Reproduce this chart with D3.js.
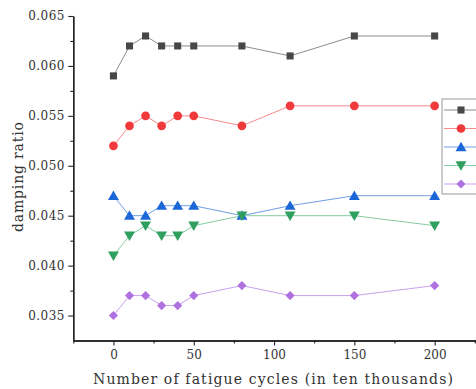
<!DOCTYPE html>
<html><head><meta charset="utf-8">
<script src="https://cdn.jsdelivr.net/npm/d3@7"></script>
<style>html,body{margin:0;padding:0;background:#fff;overflow:hidden}svg{display:block}</style>
</head><body>
<script>
const cycles = [0, 10, 20, 30, 40, 50, 80, 110, 150, 200];
const series1 = [0.059, 0.062, 0.063, 0.062, 0.062, 0.062, 0.062, 0.061, 0.063, 0.063];
const series2 = [0.052, 0.054, 0.055, 0.054, 0.055, 0.055, 0.054, 0.056, 0.056, 0.056];
const series3 = [0.047, 0.045, 0.045, 0.046, 0.046, 0.046, 0.045, 0.046, 0.047, 0.047];
const series4 = [0.041, 0.043, 0.044, 0.043, 0.043, 0.044, 0.045, 0.045, 0.045, 0.044];
const series5 = [0.035, 0.037, 0.037, 0.036, 0.036, 0.037, 0.038, 0.037, 0.037, 0.038];
const xTicks = [0, 50, 100, 150, 200];
const yTicks = [0.035, 0.040, 0.045, 0.050, 0.055, 0.060, 0.065];
const xLabel = "Number of fatigue cycles (in ten thousands)";
const yLabel = "damping ratio";

const W = 476, H = 389;
const svg = d3.select("body").append("svg").attr("width", W).attr("height", H);
const x = d3.scaleLinear().domain([-25, 227]).range([73.3, 478]);
const y = d3.scaleLinear().domain([0.0325, 0.065]).range([340.5, 16]);

const styles = [
  {data: series1, fill: "#474747", line: "#8c8c8c", sym: d3.symbolSquare, size: 50, rot: 0, dy: 0},
  {data: series2, fill: "#f0393b", line: "#f48a8b", sym: d3.symbolCircle, size: 60, rot: 0, dy: 0},
  {data: series3, fill: "#1b67d8", line: "#6f9ee6", sym: d3.symbolTriangle, size: 52, rot: 0, dy: 1},
  {data: series4, fill: "#2f9f5f", line: "#86cca2", sym: d3.symbolTriangle, size: 52, rot: 180, dy: -1},
  {data: series5, fill: "#b071e0", line: "#c9a1ee", sym: d3.symbolSquare, size: 42, rot: 45, dy: 0}
];

const font = "DejaVu Serif";

// axes
const yAxis = svg.append("g").attr("transform", `translate(${x(-25)},0)`)
  .call(d3.axisLeft(y).tickValues(yTicks).tickFormat(d3.format(".3f")).tickSize(5).tickSizeOuter(0));
const yMinor = svg.append("g").attr("transform", `translate(${x(-25)},0)`)
  .call(d3.axisLeft(y).tickValues(d3.range(0, 7).map(i => 0.0375 + i * 0.005).filter(v => v < 0.065)).tickFormat("").tickSize(3).tickSizeOuter(0));
const xAxis = svg.append("g").attr("transform", `translate(0,${y(0.0325)})`)
  .call(d3.axisBottom(x).tickValues(xTicks).tickSize(5).tickSizeOuter(0));
const xMinor = svg.append("g").attr("transform", `translate(0,${y(0.0325)})`)
  .call(d3.axisBottom(x).tickValues([-25, 25, 75, 125, 175, 225]).tickFormat("").tickSize(3).tickSizeOuter(0));

[yAxis, yMinor, xAxis, xMinor].forEach(g => {
  g.attr("font-family", font).attr("font-size", 12);
  g.select(".domain").attr("stroke", "#222").attr("stroke-width", 1.3);
  g.selectAll(".tick line").attr("stroke", "#222").attr("stroke-width", 1.1);
  g.selectAll(".tick text").attr("fill", "#333");
});
yAxis.selectAll(".tick text").attr("x", -9).attr("textLength", 36).attr("lengthAdjust", "spacing");
xAxis.selectAll(".tick text").attr("y", 10);

svg.append("text").attr("x", 93).attr("y", 384)
  .attr("textLength", 360).attr("lengthAdjust", "spacing")
  .attr("font-family", font).attr("font-size", 14).attr("fill", "#333").text(xLabel);
svg.append("text").attr("transform", "translate(23,232) rotate(-90)")
  .attr("textLength", 110).attr("lengthAdjust", "spacing")
  .attr("font-family", font).attr("font-size", 14).attr("fill", "#333").text(yLabel);

// series
const line = d3.line().x((d, i) => x(cycles[i])).y(d => y(d));
styles.forEach(s => {
  svg.append("path").attr("d", line(s.data)).attr("fill", "none").attr("stroke", s.line).attr("stroke-width", 1);
});
styles.forEach(s => {
  svg.append("g").selectAll("path").data(s.data).join("path")
    .attr("d", d3.symbol().type(s.sym).size(s.size))
    .attr("transform", (d, i) => `translate(${x(cycles[i])},${y(d) + s.dy}) rotate(${s.rot})`)
    .attr("fill", s.fill);
});

// legend (cropped at right edge)
const lg = svg.append("g");
lg.append("rect").attr("x", 442).attr("y", 99).attr("width", 80).attr("height", 95)
  .attr("fill", "#fff").attr("stroke", "#999").attr("stroke-width", 1);
styles.forEach((s, i) => {
  const yy = 110 + i * 18.5;
  lg.append("line").attr("x1", 444).attr("x2", 490).attr("y1", yy).attr("y2", yy).attr("stroke", s.line);
  lg.append("path").attr("d", d3.symbol().type(s.sym).size(s.size))
    .attr("transform", `translate(461,${yy + s.dy}) rotate(${s.rot})`)
    .attr("fill", s.fill);
});
</script>
</body></html>
